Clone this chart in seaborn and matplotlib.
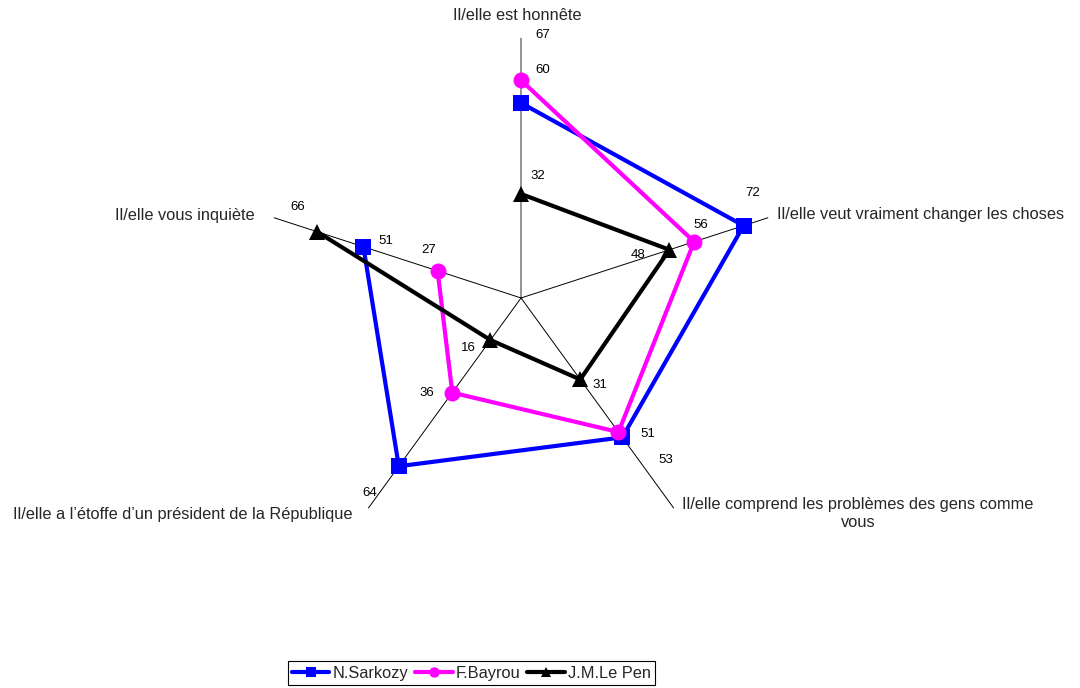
import numpy as np
import pandas as pd
import seaborn as sns
import matplotlib.pyplot as plt
from matplotlib.lines import Line2D

# Data
criteres = ["Il/elle est honnête",
            "Il/elle veut vraiment changer les choses",
            "Il/elle comprend les problèmes des gens comme\nvous",
            "Il/elle a l’étoffe d’un président de la République",
            "Il/elle vous inquiète"]
candidats = ["N.Sarkozy", "F.Bayrou", "J.M.Le Pen"]
sarkozy = [60, 72, 53, 64, 51]
bayrou = [67, 56, 51, 36, 27]
le_pen = [32, 48, 31, 16, 66]

# Styles
couleurs = ["#0000FF", "#FF00FF", "#000000"]
marqueurs = ["s", "o", "^"]
tailles = [11, 11.5, 11]

# label offsets in pixels (dx, dy) relative to each point
decalages = [
    [(22, 33), (9, 33), (43, -23), (-29, -27), (22, 6)],
    [(22, 45), (7, 17), (29, -2), (-25, 0), (-9, 21)],
    [(17, 18), (-31, -5), (20, -6), (-22, -8), (-19, 25)],
]
pos_criteres = [((-4, 22), "center"), ((9, 3), "left"), ((184, -5), "center"),
                ((-16, -6), "right"), ((-19, 2), "right")]

sns.set_style("white")
plt.rcParams["font.family"] = ["Liberation Sans", "DejaVu Sans"]

n = len(criteres)
angles = np.linspace(0, 2 * np.pi, n, endpoint=False)
rmax = 80

fig = plt.figure(figsize=(10.8, 6.88), dpi=100)
ax = fig.add_axes([0.2417, 0.189, 0.4815, 0.7558], projection="polar")
ax.set_theta_zero_location("N")
ax.set_theta_direction(-1)
ax.patch.set_alpha(0)

# spokes
for i, a in enumerate(angles):
    if i == 0:
        ax.plot([a, a], [0, rmax], color="#808080", lw=1.2, zorder=1)
    else:
        ax.plot([a, a], [0, rmax], color="black", lw=0.7, zorder=1)

series = [sarkozy, bayrou, le_pen]
for k, (nom, vals) in enumerate(zip(candidats, series)):
    df = pd.DataFrame({"theta": np.append(angles, angles[0]),
                       "valeur": vals + vals[:1]})
    sns.lineplot(data=df, x="theta", y="valeur", ax=ax, sort=False,
                 color=couleurs[k], lw=3, marker=marqueurs[k],
                 markersize=tailles[k], markeredgecolor=couleurs[k],
                 markeredgewidth=0, zorder=3 + k, legend=False)
    for j, v in enumerate(vals):
        ax.annotate(str(v), xy=(angles[j], v), xytext=decalages[k][j],
                    textcoords="offset pixels", ha="center", va="center",
                    fontsize=9.5, color="black", zorder=10)

for j, lab in enumerate(criteres):
    off, ha = pos_criteres[j]
    ax.annotate(lab, xy=(angles[j], rmax), xytext=off, textcoords="offset pixels",
                ha=ha, va="center", multialignment="center", fontsize=11.8,
                annotation_clip=False)

ax.set_ylim(0, rmax)
ax.set_xticks([])
ax.set_yticks([])
ax.grid(False)
ax.spines["polar"].set_visible(False)
ax.set_xlabel("")
ax.set_ylabel("")

handles = [Line2D([], [], color=c, lw=3, marker=m, ms=7.5, mec=c, mew=0)
           for c, m in zip(couleurs, marqueurs)]
leg = fig.legend(handles, candidats, loc="center", bbox_to_anchor=(0.4366, 0.0218),
                 ncol=3, fontsize=11.8, frameon=True, fancybox=False,
                 edgecolor="black", framealpha=1, handlelength=2.3,
                 handletextpad=0.2, columnspacing=0.4, borderpad=0.25)
leg.get_frame().set_linewidth(0.8)

plt.savefig("out.png", dpi=100, facecolor="white")
